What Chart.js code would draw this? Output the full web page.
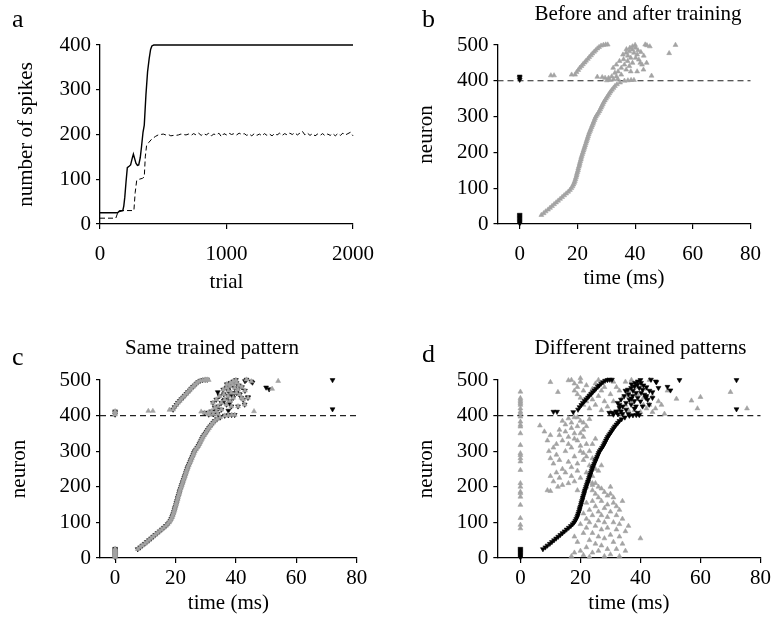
<!DOCTYPE html>
<html>
<head>
    <title>Spike raster</title>
    <script src="https://cdn.jsdelivr.net/npm/chart.js@4"></script>
    <style>
        body { margin: 0; background: #fff; }
        #wrap { position: relative; width: 774px; height: 631px; }
        canvas { position: absolute; }
    </style>
</head>
<body>
<div id="wrap">
    <canvas id="chartA" width="387" height="316" style="left:0;top:0"></canvas>
    <canvas id="chartB" width="387" height="316" style="left:387px;top:0"></canvas>
    <canvas id="chartC" width="387" height="315" style="left:0;top:316px"></canvas>
    <canvas id="chartD" width="387" height="315" style="left:387px;top:316px"></canvas>
</div>

<script>
// ---- panel a: number of spikes per trial ([trial, spikes]) ----
var solidCurve = [[0,25],[140,25],[150,28],[180,30],[188,40],[196,60],[206,95],[216,126],[230,129],[242,132],
    [254,146],[264,156],[274,146],[284,136],[296,131],[306,132],[318,148],[328,172],[340,205],[350,221],
    [363,288],[376,340],[389,370],[400,390],[410,398],[425,400],[2000,400]];
var dashedCurve = [[0,13],[125,13],[140,25],[152,30],[268,30],[278,70],[290,97],[310,100],[335,102],[350,105],
    [358,150],[368,175],[385,182],[410,190],[440,196],[460,199],
    [480,200],[500,201],[520,199],[540,200],[560,197],[580,198],[600,198],[620,199],[640,201],[660,200],
    [680,199],[700,201],[720,198],[740,202],[760,199],[780,203],[800,198],[820,202],[840,199],[860,203],
    [880,197],[900,201],[920,199],[940,203],[960,195],[980,202],[1000,199],[1020,203],[1040,200],[1060,202],
    [1080,199],[1100,203],[1120,200],[1140,202],[1160,198],[1180,201],[1200,197],[1220,202],[1240,198],[1260,201],
    [1280,197],[1300,202],[1320,198],[1340,201],[1360,197],[1380,202],[1400,199],[1420,203],[1440,198],[1460,202],
    [1480,199],[1500,203],[1520,200],[1540,204],[1560,199],[1580,203],[1600,207],[1620,199],[1640,203],[1660,198],
    [1680,202],[1700,197],[1720,201],[1740,198],[1760,202],[1780,197],[1800,201],[1820,198],[1840,202],[1860,197],
    [1880,202],[1900,198],[1920,203],[1940,199],[1960,202],[1980,205],[2000,197]];
var trialTicks = [0, 1000, 2000];
var spikeTicks = [0, 100, 200, 300, 400];

// ---- rasters: tick values ----
var timeTicks = [0, 20, 40, 60, 80];
var neuronTicks = [0, 100, 200, 300, 400, 500];
var thresholdNeuron = 400;

// trained chain: neuron index and firing time (ms)
var chainN = [25,30,35,40,45,50,55,60,65,70,75,80,85,90,95,100,105,110,115,120,125,130,135,140,145,150,
    155,160,165,170,175,180,185,190,195,200,205,210,215,220,225,230,235,240,245,250,255,260,265,270,
    275,280,285,290,295,300,305,310,315,320,325,330,335,340,345,350,355,360,365,370,375,380,385,390,395,400];
var chainT = [7.5,8.3,9.0,9.8,10.5,11.2,11.9,12.6,13.3,14.0,
    14.7,15.4,16.1,16.8,17.4,17.9,18.3,18.6,18.9,19.1,
    19.3,19.5,19.7,19.8,20.0,20.2,20.3,20.5,20.7,20.8,
    21.0,21.2,21.3,21.5,21.7,21.9,22.1,22.3,22.5,22.7,
    22.9,23.1,23.3,23.5,23.7,23.9,24.1,24.4,24.6,24.9,
    25.1,25.4,25.6,25.9,26.1,26.4,26.8,27.2,27.6,27.9,
    28.2,28.5,28.8,29.1,29.5,29.9,30.3,30.7,31.1,31.5,
    32.0,32.5,33.0,33.7,34.8,36.3];

// trained response above neuron 400 ([time, neuron])
var upperChain = [[19.2,417],[19.7,424],[20.3,430],[20.8,436],[21.4,441],[21.9,446],[22.5,451],[23.0,456],
    [23.6,461],[24.1,466],[24.7,471],[25.2,476],[25.8,481],[26.3,485],[26.9,490],[27.5,494],[28.2,498],
    [29.0,500],[29.8,501],[30.5,501]];
var trainedCluster = [[35.8,473],[36.9,478],[38.0,482],[39.1,496],[40.2,492],[39.6,478],[38.5,464],[37.4,455],
    [36.3,445],[35.2,436],[34.1,426],[33.0,422],[31.9,412],[30.8,408],[40.7,473],[41.3,459],[41.8,450],
    [42.4,445],[43.5,501],[45.1,496],[44.0,450],[42.9,431],[34.6,455],[33.5,445],[32.4,436],[36.9,431],
    [38.0,441],[39.1,450],[40.2,464],[35.2,417],[33.5,412],[29.6,408],[38.5,426],[40.7,426],[37.5,470],
    [39.0,487],[41.0,485],[36.0,460],[34.0,405],[32.5,404],[31.0,403],[40.0,500],[38.2,492],[37.0,488],
    [42.0,480],[43.0,470],[37.5,401],[38.6,402],[39.6,402]];

// input neurons firing at t = 0
var inputNeurons = [2,5,8,11,14,17,20,23,26];
var upperInputs = [403,408,412];

// panel b extras (grey, after training)
var bGreyExtra = [[10.8,415],[11.9,415],[18.0,417],[26.9,411],[28.6,410],[30.2,401],[45.7,414],[51.8,477],
    [54.0,500],[44.1,499]];
// panel c extras
var cBlackExtra = [[72,500],[72,418],[50,479],[51,474],[43,497],[45.5,493],[34,466],[38,462],[36,442],
    [39,456],[41,461],[44,452],[38,435],[37.5,414]];
var cGreyExtra = [[11,413],[12.5,413],[18,416],[28.5,411],[31,409],[46,412],[52,475],[54,497],[30,500],[31,500]];
// panel d extras (black, trained)
var dBlackExtra = [[11,411],[12.2,411],[17.6,410],[53,500],[49,481],[50,471],[72,500],[72,418],[45.3,494],
    [44,466],[46,478],[35,470],[37,448],[33,430],[38,420],[40,440],[42,455],[36,405],[39,408],[32,410]];
// panel d: other trained pattern (grey)
var dZeroN = [83,93,112,149,172,182,186,200,210,247,271,280,289,294,317,350,369,374,383,397,406,411,
    420,430,435,439,444,449,467];
var dLeftCloud = [[6.5,372],[8,355],[9,330],[10,345],[11,310],[9.5,300],[12,320],[13,360],[14,385],[15,375],
    [16,392],[17,380],[18,395],[19,370],[20,385],[21,360],[18,350],[16,340],[14,330],[12,290],[10,280],
    [11,265],[13,275],[15,300],[17,310],[19,330],[21,340],[22,320],[23,300],[24,280],[20,300],[18,285],
    [16,270],[14,250],[12,240],[10,230],[11,215],[13,225],[15,240],[17,255],[19,265],[21,275],[23,260],
    [25,250],[22,240],[20,225],[18,215],[16,210],[14,205],[9,190],[10,188],[12.5,200],[17,230],[19,245],
    [24,230],[26,245],[20,350],[22,370],[23,390],[15,355],[13,345],[24,320],[25,335],[21,295],[27,260],
    [24,210],[22,200],[19,190],[17,365],[19,395],[21,380],[16,320],[18,335],[20,315],[22,285]];
var dLowerCloud = [[23,215],[24,205],[25,210],[26,200],[24,190],[27,195],[25,180],[28,185],[26,170],[29,175],
    [30,180],[31,170],[27,160],[24,160],[22,155],[29,150],[31,155],[32,145],[28,140],[25,145],[23,135],
    [26,130],[30,130],[33,135],[27,120],[24,120],[21,125],[29,115],[32,120],[34,110],[26,105],[23,100],
    [28,100],[31,100],[33,95],[25,90],[20,95],[22,85],[29,85],[27,80],[32,80],[35,75],[24,70],[21,70],
    [26,60],[30,65],[33,60],[28,55],[23,50],[19,45],[25,40],[31,45],[34,40],[27,35],[22,30],[29,25],
    [32,25],[20,20],[24,15],[26,20],[30,10],[33,5],[17,5],[18,15],[21,8],[23,3],[28,5],[35,20],[40,55],
    [36,90],[34,160],[22,110],[30,200],[18,60]];
var dUpperCloud = [[10,494],[12.5,466],[16,499],[18,490],[19,480],[20,495],[21,470],[22,485],[23,460],[19,460],
    [20,450],[24,475],[25,490],[26,500],[22,440],[24,445],[21,430],[23,420],[26,455],[27,470],[28,440],
    [29,425],[30,460],[31,440],[32,480],[33,420],[34,450],[35,495],[36,470],[37,440],[38,415],[39,460],
    [40,490],[41,430],[42,475],[43,500],[44,455],[45,420],[46,440],[30,410],[28,480],[33,470],[35,430],
    [37,500],[39,480],[41,450],[43,430],[38,485],[36,455],[40,410],[42,420],[27,415],[25,430],[18,470],
    [17,500],[20,505],[29,500],[31,495],[47,430],[49,470],[52,447],[57,442],[60,452],[59,420],[70,466],
    [75.5,420],[34,405],[44,410],[48,405],[36,415]];

// ---- helpers ----
Chart.defaults.font.family = '"Liberation Serif", "Times New Roman", serif';
Chart.defaults.font.size = 21;
Chart.defaults.color = '#000';
Chart.defaults.animation = false;

var GREY = '#a3a3a3';

function xy(pairs) { return pairs.map(function(p) { return {x: p[0], y: p[1]}; }); }
function atZero(ns) { return ns.map(function(n) { return {x: 0, y: n}; }); }
var chain = chainT.map(function(t, i) { return {x: t, y: chainN[i]}; });
var trained = chain.concat(xy(upperChain), xy(trainedCluster));

function marks(data, color, flip, order) {
    return {type: 'scatter', data: data, pointStyle: 'triangle', pointRotation: flip ? 180 : 0,
        pointRadius: 2.8, pointHoverRadius: 2.8, backgroundColor: color, borderColor: color,
        borderWidth: 0.6, clip: false, order: order};
}
function threshold(xMin) {
    return {type: 'line', data: [{x: xMin, y: thresholdNeuron}, {x: 80, y: thresholdNeuron}],
        borderColor: '#222', borderWidth: 1.1, borderDash: [6, 4], pointRadius: 0, clip: false, order: 5};
}
function axis(o) {
    var horiz = o.pos === 'bottom';
    return {
        type: 'linear', position: o.pos, min: o.min, max: o.max,
        afterBuildTicks: function(s) { s.ticks = o.ticks.map(function(v) { return {value: v}; }); },
        afterFit: function(s) { if (horiz) s.height = o.size; else s.width = o.size; },
        grid: {drawOnChartArea: false, color: '#000', lineWidth: 1.2, tickLength: horiz ? 5 : 4},
        border: {color: '#000', width: 1.3},
        ticks: {color: '#000', padding: o.tickPad, maxRotation: 0, autoSkip: false,
            callback: function(v) { return String(v); }},
        title: {display: true, text: o.title, color: '#000',
            padding: horiz ? {top: 0, bottom: o.titlePad} : {top: o.titlePad, bottom: 0}}
    };
}

// panel letter and heading
var panelText = {
    id: 'panelText',
    afterDraw: function(chart, args, opts) {
        var ctx = chart.ctx;
        ctx.save();
        ctx.fillStyle = '#000';
        ctx.textBaseline = 'alphabetic';
        ctx.textAlign = 'left';
        ctx.font = '26px "Liberation Serif"';
        ctx.fillText(opts.letter, opts.lx, opts.ly);
        if (opts.title) {
            ctx.font = '21px "Liberation Serif"';
            ctx.textAlign = 'center';
            ctx.fillText(opts.title, opts.tx, opts.ty);
        }
        ctx.restore();
    }
};

function baseOptions(pad, scales, text) {
    return {
        responsive: false, events: [],
        layout: {padding: pad},
        scales: scales,
        plugins: {legend: {display: false}, tooltip: {enabled: false}, panelText: text}
    };
}

// ---- a ----
new Chart(document.getElementById('chartA'), {
    type: 'line',
    data: {datasets: [
        {data: xy(solidCurve), borderColor: '#000', borderWidth: 1.4, pointRadius: 0, tension: 0, clip: false},
        {data: xy(dashedCurve), borderColor: '#000', borderWidth: 1, borderDash: [5, 3], pointRadius: 0, tension: 0, clip: false}
    ]},
    options: baseOptions({left: 0, top: 45, right: 30, bottom: 0}, {
        x: axis({pos: 'bottom', min: 0, max: 2000, ticks: trialTicks, size: 92, tickPad: 13, title: 'trial', titlePad: 21}),
        y: axis({pos: 'left', min: 0, max: 400, ticks: spikeTicks, size: 100, tickPad: 5, title: 'number of spikes', titlePad: 14})
    }, {letter: 'a', lx: 12, ly: 27}),
    plugins: [panelText]
});

// ---- b ----
new Chart(document.getElementById('chartB'), {
    type: 'scatter',
    data: {datasets: [
        threshold(-7.7),
        marks(trained.concat(xy(bGreyExtra)), GREY, false, 2),
        marks(atZero(inputNeurons.concat(upperInputs)), '#000', true, 1)
    ]},
    options: baseOptions({left: 0, top: 45, right: 12.5, bottom: 0}, {
        x: axis({pos: 'bottom', min: -7.7, max: 80, ticks: timeTicks, size: 92, tickPad: 13, title: 'time (ms)', titlePad: 25}),
        y: axis({pos: 'left', min: 0, max: 500, ticks: neuronTicks, size: 110.5, tickPad: 5, title: 'neuron', titlePad: 27})
    }, {letter: 'b', lx: 35, ly: 27, title: 'Before and after training', tx: 251, ty: 19.5}),
    plugins: [panelText]
});

// ---- c ----
new Chart(document.getElementById('chartC'), {
    type: 'scatter',
    data: {datasets: [
        threshold(-5),
        marks(atZero(inputNeurons.concat(upperInputs)).concat(trained, xy(cBlackExtra)), '#000', true, 3),
        marks(atZero(inputNeurons.concat(upperInputs)).concat(trained, xy(cGreyExtra)), GREY, false, 2)
    ]},
    options: baseOptions({left: 0, top: 64, right: 30.3, bottom: 0}, {
        x: axis({pos: 'bottom', min: -5, max: 80, ticks: timeTicks, size: 73, tickPad: 3, title: 'time (ms)', titlePad: 15}),
        y: axis({pos: 'left', min: 0, max: 500, ticks: neuronTicks, size: 100, tickPad: 5, title: 'neuron', titlePad: 7})
    }, {letter: 'c', lx: 12, ly: 49, title: 'Same trained pattern', tx: 212, ty: 37.5}),
    plugins: [panelText]
});

// ---- d ----
new Chart(document.getElementById('chartD'), {
    type: 'scatter',
    data: {datasets: [
        threshold(-7.7),
        marks(atZero(dZeroN).concat(xy(dLeftCloud), xy(dLowerCloud), xy(dUpperCloud)), GREY, false, 2),
        marks(atZero(inputNeurons).concat(trained, xy(dBlackExtra)), '#000', true, 1)
    ]},
    options: baseOptions({left: 0, top: 64, right: 13, bottom: 0}, {
        x: axis({pos: 'bottom', min: -7.7, max: 80, ticks: timeTicks, size: 73, tickPad: 3, title: 'time (ms)', titlePad: 15}),
        y: axis({pos: 'left', min: 0, max: 500, ticks: neuronTicks, size: 110.3, tickPad: 5, title: 'neuron', titlePad: 27})
    }, {letter: 'd', lx: 35, ly: 45.7, title: 'Different trained patterns', tx: 253.5, ty: 37.5}),
    plugins: [panelText]
});
</script>
</body>
</html>
